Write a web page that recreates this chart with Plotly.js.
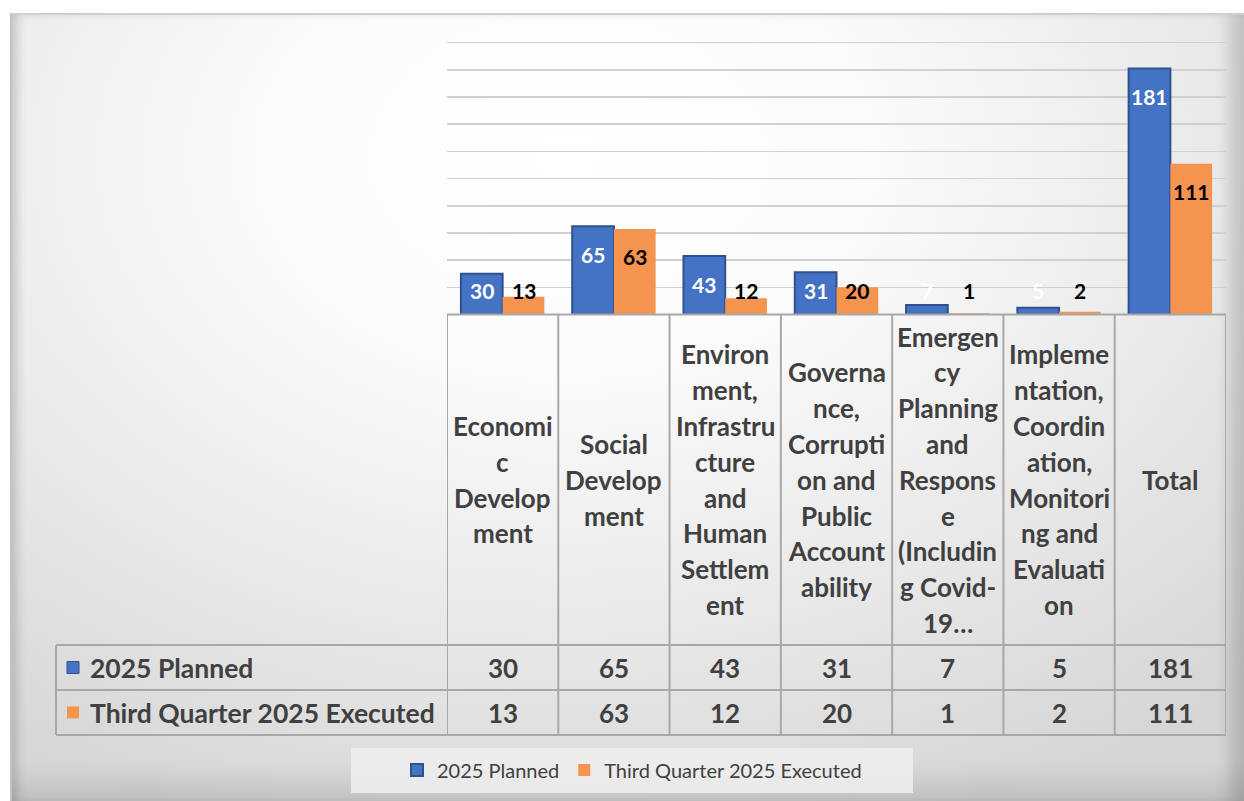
<!DOCTYPE html>
<html>
<head>
<meta charset="utf-8">
<script src="https://cdn.plot.ly/plotly-3.0.1.min.js"></script>
<style>
  html, body { margin:0; padding:0; background:#ffffff; }
  #wrap { position:relative; width:1244px; height:801px; overflow:hidden; }
  #frame {
    position:absolute; left:10px; top:13px; right:0; bottom:0;
    border-top:2px solid #cfcfcf; border-left:2px solid #c2c2c2;
    background: radial-gradient(ellipse 80% 90% at 45% 18%, #ffffff 0%, #fbfbfb 30%, #e8e8e8 68%, #d6d6d6 100%);
    box-shadow: inset 10px 0 8px -4px rgba(0,0,0,0.14),
                inset -22px 0 16px -8px rgba(0,0,0,0.16),
                inset 0 -38px 26px -18px rgba(0,0,0,0.10);
  }
  #chart { position:absolute; left:0; top:0; width:1244px; height:801px; }
</style>
</head>
<body>
<div id="wrap">
  <div id="frame"></div>
  <div id="chart"></div>
</div>
<script>
// ---- data ----
const categories = [
  'Economic Development',
  'Social Development',
  'Environment, Infrastructure and Human Settlement',
  'Governance, Corruption and Public Accountability',
  'Emergency Planning and Response (Including Covid-19…',
  'Implementation, Coordination, Monitoring and Evaluation',
  'Total'
];
const tickLabels = [
  'Economi\nc\nDevelop\nment',
  'Social\nDevelop\nment',
  'Environ\nment,\nInfrastru\ncture\nand\nHuman\nSettlem\nent',
  'Governa\nnce,\nCorrupti\non and\nPublic\nAccount\nability',
  'Emergen\ncy\nPlanning\nand\nRespons\ne\n(Includin\ng Covid-\n19…',
  'Impleme\nntation,\nCoordin\nation,\nMonitori\nng and\nEvaluati\non',
  'Total'
];
const seriesNames = ['2025 Planned', 'Third Quarter 2025 Executed'];
const planned  = [30, 65, 43, 31, 7, 5, 181];
const executed = [13, 63, 12, 20, 1, 2, 111];

// ---- styling helpers ----
const W = 1244, H = 801;
const PX = x => x / W;            // pixel x -> paper
const PY = y => 1 - y / H;        // pixel y -> paper
const FONT = 'Lato, "Open Sans", sans-serif';
const TXT = '#404040';
const BLUE = '#4472C4', BLUE_EDGE = '#2F528F', ORANGE = '#F5944F';
const GRID = '#d0d0d0', BORDER = '#a8a8a8';

const plotL = 447, plotR = 1226, plotTop = 42.7, plotBase = 314.5;
const headBottom = 645, row1Bottom = 690, row2Bottom = 735, tableLeft = 56;
const yMax = 200, yPad = 4;
const unitPx = (plotBase - plotTop) / yMax;

const traces = [
  {
    type:'bar', name: seriesNames[0], x: categories, y: planned,
    marker:{ color: BLUE, line:{ color: BLUE_EDGE, width: 2 } },
    textposition:'none', hoverinfo:'x+y'
  },
  {
    type:'bar', name: seriesNames[1], x: categories, y: executed,
    marker:{ color: ORANGE, line:{ color: ORANGE, width: 0 } },
    textposition:'none', hoverinfo:'x+y'
  }
];

const annotations = [];
const shapes = [];

// legend background box
shapes.push({ type:'rect', xref:'paper', yref:'paper', layer:'below',
  x0: PX(351), x1: PX(913), y0: PY(793), y1: PY(748),
  fillcolor:'rgba(238,238,238,0.85)', line:{ width:0 } });

// bar value labels (Excel-like: inside end, kept above the axis band)
const insideOffset = 28 / unitPx;
const minLabel = 24 / unitPx;
const halfBar = 111.3 * 0.75 / 4;
categories.forEach((c, i) => {
  annotations.push({
    x: c, xref:'x', xshift: -halfBar, y: Math.max(planned[i] - insideOffset, minLabel), yref:'y',
    text: String(planned[i]), showarrow:false, yanchor:'middle',
    font:{ family: FONT, size: 21, color:'#ffffff', weight: 700 }
  });
  annotations.push({
    x: c, xref:'x', xshift: halfBar, y: Math.max(executed[i] - insideOffset, minLabel), yref:'y',
    text: String(executed[i]), showarrow:false, yanchor:'middle',
    font:{ family: FONT, size: 21, color:'#000000', weight: 700 }
  });
});

// category header text (data table header)
const headCenter = (plotBase + headBottom) / 2;
const lineGap = 35.8;
categories.forEach((c, i) => {
  const lines = tickLabels[i].split('\n');
  lines.forEach((ln, j) => {
    annotations.push({
      x: c, xref:'x', y: PY(headCenter + (j - (lines.length - 1) / 2) * lineGap), yref:'paper',
      text: ln, showarrow:false, yanchor:'middle', xanchor:'center',
      font:{ family: FONT, size: 26, color: TXT, weight: 700 }
    });
  });
  // table values
  annotations.push({
    x: c, xref:'x', y: PY((headBottom + row1Bottom) / 2), yref:'paper',
    text: String(planned[i]), showarrow:false, yanchor:'middle',
    font:{ family: FONT, size: 26, color: TXT, weight: 700 }
  });
  annotations.push({
    x: c, xref:'x', y: PY((row1Bottom + row2Bottom) / 2), yref:'paper',
    text: String(executed[i]), showarrow:false, yanchor:'middle',
    font:{ family: FONT, size: 26, color: TXT, weight: 700 }
  });
});

// row headers with legend keys
[[seriesNames[0], BLUE, (headBottom + row1Bottom) / 2], [seriesNames[1], ORANGE, (row1Bottom + row2Bottom) / 2]].forEach(([name, col, yc]) => {
  annotations.push({
    x: PX(88), xref:'paper', y: PY(yc), yref:'paper', xanchor:'left', yanchor:'middle',
    text: name, showarrow:false,
    font:{ family: FONT, size: 26.5, color: TXT, weight: 700 }
  });
  shapes.push({
    type:'rect', xref:'paper', yref:'paper',
    x0: PX(67), x1: PX(79), y0: PY(yc - 6), y1: PY(yc + 6),
    fillcolor: col, line:{ width: col === BLUE ? 1 : 0, color: BLUE_EDGE }
  });
});

// table grid lines
const hLine = (y, x0, x1) => shapes.push({ type:'line', xref:'paper', yref:'paper',
  x0: PX(x0), x1: PX(x1), y0: PY(y), y1: PY(y), line:{ color: BORDER, width: 2 } });
const vLinePx = (x, y0, y1) => shapes.push({ type:'line', xref:'paper', yref:'paper',
  x0: PX(x), x1: PX(x), y0: PY(y0), y1: PY(y1), line:{ color: BORDER, width: 2 } });

hLine(plotBase, plotL, plotR);
hLine(headBottom, tableLeft, plotR);
hLine(row1Bottom, tableLeft, plotR);
hLine(row2Bottom, tableLeft, plotR);
vLinePx(tableLeft, headBottom, row2Bottom);
for (let k = 0; k <= categories.length; k++) {
  shapes.push({ type:'line', xref:'x', yref:'paper', x0: k - 0.5, x1: k - 0.5,
    y0: PY(plotBase), y1: PY(row2Bottom), line:{ color: BORDER, width: 2 } });
}

const layout = {
  width: W, height: H,
  margin:{ l:0, r:0, t:0, b:0 },
  paper_bgcolor:'rgba(0,0,0,0)', plot_bgcolor:'rgba(0,0,0,0)',
  barmode:'group', bargap: 0.25, bargroupgap: 0,
  font:{ family: FONT, color: TXT },
  xaxis:{
    type:'category', domain:[PX(plotL), PX(plotR)], range:[-0.5, categories.length - 0.5],
    showticklabels:false, showgrid:false, zeroline:false, showline:false, ticks:''
  },
  yaxis:{
    domain:[PY(plotBase), PY(plotTop - yPad * unitPx)], range:[0, yMax + yPad],
    tickmode:'linear', dtick: 20, tick0: 0,
    showticklabels:false, showgrid:true, gridcolor: GRID, gridwidth: 1.5,
    zeroline:false, showline:false, ticks:''
  },
  showlegend:true,
  legend:{
    orientation:'h', x: PX(632), xanchor:'center', y: PY(770), yanchor:'middle',
    bgcolor:'rgba(0,0,0,0)', borderwidth:0,
    font:{ family: FONT, size: 20, color: TXT },
    itemwidth: 30
  },
  annotations: annotations,
  shapes: shapes
};

Plotly.newPlot('chart', traces, layout, { displayModeBar:false, staticPlot:true });
</script>
</body>
</html>
